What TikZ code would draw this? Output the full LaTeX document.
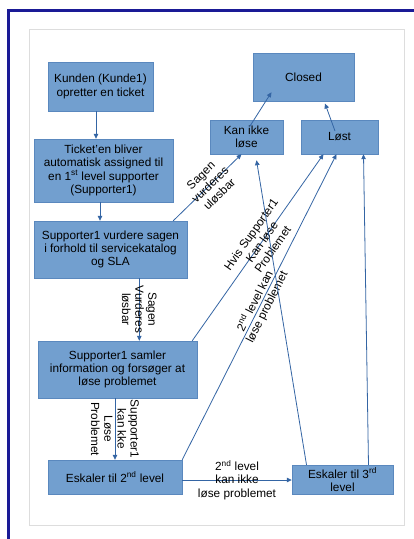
\documentclass[tikz,border=0pt]{standalone}
\usepackage{fontspec}
\setmainfont{Liberation Sans}
\usetikzlibrary{arrows.meta}
\definecolor{boxfill}{HTML}{729FCF}
\definecolor{boxline}{HTML}{5A88BE}
\definecolor{arrline}{HTML}{3465A4}
\definecolor{frameblue}{HTML}{1A1A96}
\definecolor{pagegray}{HTML}{DDDDDD}

\begin{document}
\begin{tikzpicture}[x=1pt,y=-1pt,
        box/.style={draw=boxline,fill=boxfill,inner sep=0pt,align=center,
                    font=\fontsize{11.8}{13.2}\selectfont},
        arr/.style={draw=arrline,line width=0.8pt,-{Triangle[length=5pt,width=4.5pt]}},
        lbl/.style={inner sep=0pt,align=center,font=\fontsize{11.8}{13.2}\selectfont}]
    \useasboundingbox (0,0) rectangle (414,539);
    \fill[white] (0,0) rectangle (414,539);
    \draw[frameblue,line width=3pt] (8,539) -- (8,10.5) -- (414,10.5);
    \draw[pagegray,line width=1pt] (29,29) rectangle (404,525);

    \node[box,minimum width=105,minimum height=49] (kunde) at (100.5,86.5)
        {Kunden (Kunde1)\\opretter en ticket};
    \node[box,minimum width=139,minimum height=63] (ticket) at (103.5,170.5)
        {Ticket'en bliver\\automatisk assigned til\\en 1\textsuperscript{st} level supporter\\(Supporter1)};
    \node[box,minimum width=153,minimum height=57] (vurder) at (110.5,249.5)
        {Supporter1 vurdere sagen\\i forhold til servicekatalog\\og SLA};
    \node[box,minimum width=159,minimum height=57] (samler) at (117.5,369.5)
        {Supporter1 samler\\information og forsøger at\\løse problemet};
    \node[box,minimum width=134,minimum height=34] (eskal2) at (115,477)
        {Eskaler til 2\textsuperscript{nd} level};
    \node[box,minimum width=101,minimum height=29] (eskal3) at (342.5,479.5)
        {Eskaler til 3\textsuperscript{rd}\\level};
    \node[box,minimum width=101,minimum height=48] (closed) at (303.5,77) {Closed};
    \node[box,minimum width=73,minimum height=34] (kanikke) at (246.5,137) {Kan ikke\\løse};
    \node[box,minimum width=77,minimum height=34] (loest) at (339.5,137) {Løst};

    \draw[arr] ([xshift=-4.5pt]kunde.south) -- ([xshift=-4.5pt]kunde.south |- ticket.north);
    \draw[arr] ([xshift=-3.5pt]ticket.south) -- ([xshift=-3.5pt]ticket.south |- vurder.north);
    \draw[arr] ([xshift=-14pt]vurder.north east) -- node[lbl,sloped,pos=0.54]
        {Sagen\\vurderes\\uløsbar} ([xshift=-5pt]kanikke.south);
    \draw[arr] ([xshift=3pt,yshift=-7pt]kanikke.north) -- ([xshift=-32pt,yshift=9pt]closed.south);
    \draw[arr] ([xshift=-4.5pt,yshift=6pt]loest.center) -- ([xshift=21.5pt,yshift=-2.3pt]closed.south);
    \draw[arr] ([xshift=28.8pt]vurder.south) -- node[lbl,rotate=-90]
        {Sagen\\Vurderes\\løsbar} ([xshift=28.8pt]vurder.south |- samler.north);
    \draw[arr] ([xshift=-2.5pt]samler.south) -- node[lbl,rotate=-90]
        {Supporter1\\kan kke\\Løse\\Problemet} ([xshift=-2.5pt]samler.south |- eskal2.north);
    \draw[arr] ([yshift=-3pt]eskal2.east) -- node[lbl]
        {2\textsuperscript{nd} level\\kan ikke\\løse problemet} ([yshift=-3pt]eskal2.east -| eskal3.west);
    \draw[arr] ([xshift=-5pt]samler.north east) -- node[lbl,sloped,pos=0.53]
        {Hvis Supporter1\\Kan løse\\Problemet} ([xshift=-16pt]loest.south);
    \draw[arr] (eskal2.north east) -- node[lbl,sloped,pos=0.51]
        {2\textsuperscript{nd} level kan\\løse problemet} ([xshift=-3pt]loest.south);
    \draw[arr] ([xshift=-36pt]eskal3.north) -- ([xshift=10pt,yshift=-6pt]kanikke.south);
    \draw[arr] ([xshift=26pt]eskal3.north) -- ([xshift=24pt]loest.south);
\end{tikzpicture}
\end{document}
